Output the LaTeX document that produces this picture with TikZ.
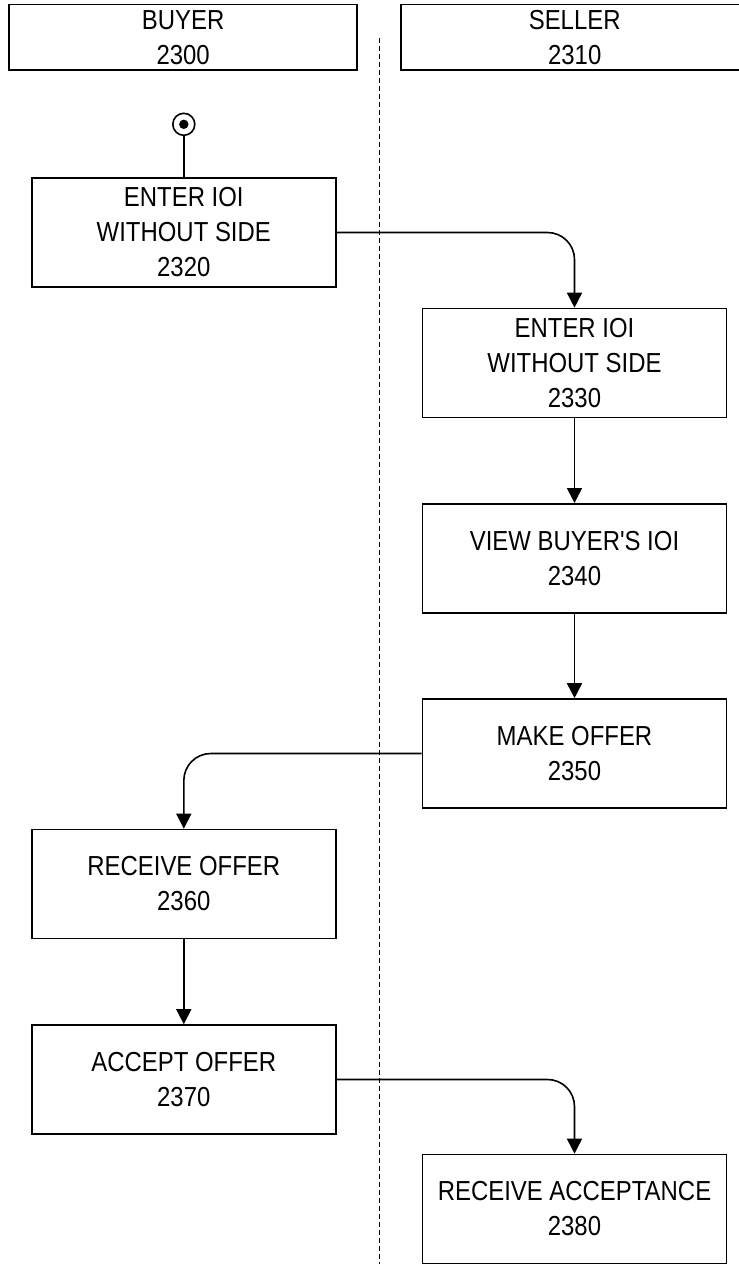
\documentclass[tikz,border=0pt]{standalone}
\usepackage{fontspec}
\setmainfont{Liberation Sans}[FakeStretch=0.87, Ligatures=TeXOff]
\usetikzlibrary{arrows.meta}
\begin{document}
\begin{tikzpicture}[x=1pt,y=-1pt,
  every node/.style={font=\fontsize{27.5}{35}\selectfont, align=center, inner sep=0pt},
  hdrbox/.style={draw, line width=1.6pt, minimum width=348pt, minimum height=65.3pt},
  stepbox/.style={draw, line width=1.6pt, minimum width=304pt, minimum height=109pt},
  flow/.style={line width=1.6pt, -{Triangle[width=15pt,length=15pt]}, rounded corners=27pt},
  plain/.style={line width=1.6pt}]
\useasboundingbox (0,0) rectangle (739,1264);
% lanes
\node[hdrbox] (buyer) at (183.2,37.3) {BUYER\\2300};
\node[hdrbox] (seller) at (574.7,37.3) {SELLER\\2310};
\draw[line width=1.6pt, dash pattern=on 5pt off 3pt] (379.3,38.3) -- (379.3,1264);
% start
\node[draw, circle, line width=1.6pt, minimum size=22pt] (start) at (183.8,124.3) {};
\fill (start.center) circle (4.7pt);
% steps
\node[stepbox] (s2320) at (183.8,232.5) {ENTER IOI\\WITHOUT SIDE\\2320};
\node[stepbox] (s2330) at (574.5,363) {ENTER IOI\\WITHOUT SIDE\\2330};
\node[stepbox] (s2340) at (574.5,558.3) {VIEW BUYER'S IOI\\2340};
\node[stepbox] (s2350) at (574.5,753.5) {MAKE OFFER\\2350};
\node[stepbox] (s2360) at (183.8,884) {RECEIVE OFFER\\2360};
\node[stepbox] (s2370) at (183.8,1079.5) {ACCEPT OFFER\\2370};
\node[stepbox] (s2380) at (574.5,1209) {RECEIVE ACCEPTANCE\\2380};
% connectors
\draw[plain] (start) -- (s2320);
\draw[flow] (s2320.east) -| (s2330.north);
\draw[flow] (s2330) -- (s2340);
\draw[flow] (s2340) -- (s2350);
\draw[flow] (s2350.west) -| (s2360.north);
\draw[flow] (s2360) -- (s2370);
\draw[flow] (s2370.east) -| (s2380.north);
\end{tikzpicture}
\end{document}
